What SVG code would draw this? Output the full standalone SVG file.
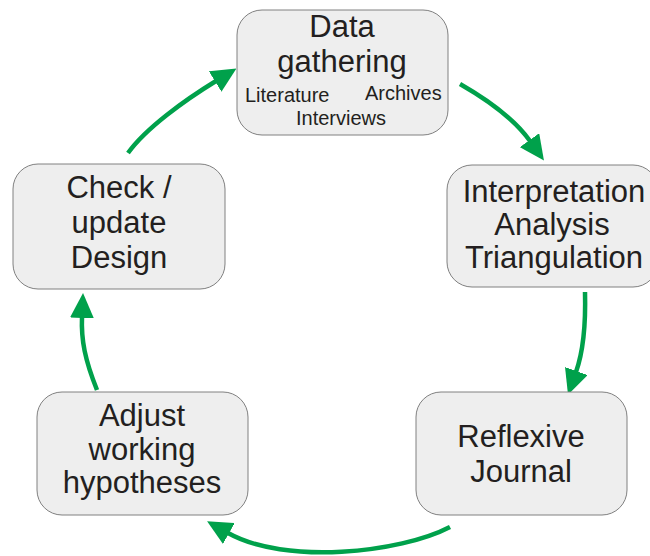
<svg xmlns="http://www.w3.org/2000/svg" width="650" height="556" viewBox="0 0 650 556">
<style>
.box{fill:#EEEEEE;stroke:#808080;stroke-width:1}
.t{font-family:"Liberation Sans",Arial,sans-serif;font-size:31px;fill:#231F20;text-anchor:middle}
.s{font-family:"Liberation Sans",Arial,sans-serif;font-size:20px;fill:#231F20}
.c{fill:none;stroke:#00A14B;stroke-width:4.5}
</style>
<defs>
<marker id="ah" viewBox="0 -12 25 24" refX="1" refY="0" markerWidth="25" markerHeight="24" markerUnits="userSpaceOnUse" orient="auto">
<path d="M0,-12 L25,0 L0,12 z" fill="#00A14B"/>
</marker>
</defs>
<rect width="650" height="556" fill="#FFFFFF"/>
<g id="connectors">
<path class="c" d="M460,84 C488,100 515,120 530,141" marker-end="url(#ah)"/>
<path class="c" d="M585,292 C586,330 582,355 576,372" marker-end="url(#ah)"/>
<path class="c" d="M450,527 C400,553 285,565 228,533" marker-end="url(#ah)"/>
<path class="c" d="M97,390 C85,360 81,340 82,317" marker-end="url(#ah)"/>
<path class="c" d="M128,153 C146,128 185,100 216,81" marker-end="url(#ah)"/>
</g>
<g id="data-gathering">
<rect class="box" x="237" y="10" width="211" height="125" rx="25" ry="25"/>
<text class="t" x="342" y="37">Data</text>
<text class="t" x="342" y="72">gathering</text>
<text class="s" x="245" y="102">Literature</text>
<text class="s" x="365" y="100">Archives</text>
<text class="s" x="341" y="125" text-anchor="middle">Interviews</text>
</g>
<g id="interpretation">
<rect class="box" x="447" y="165" width="211" height="122" rx="25" ry="25"/>
<text class="t" x="554" y="202">Interpretation</text>
<text class="t" x="552" y="235">Analysis</text>
<text class="t" x="554" y="268">Triangulation</text>
</g>
<g id="reflexive-journal">
<rect class="box" x="416" y="392" width="211" height="123" rx="25" ry="25"/>
<text class="t" x="521" y="447">Reflexive</text>
<text class="t" x="521" y="482">Journal</text>
</g>
<g id="adjust-hypotheses">
<rect class="box" x="37" y="392" width="211" height="123" rx="25" ry="25"/>
<text class="t" x="142" y="426">Adjust</text>
<text class="t" x="142" y="460">working</text>
<text class="t" x="142" y="493">hypotheses</text>
</g>
<g id="check-design">
<rect class="box" x="13" y="164" width="212" height="125" rx="25" ry="25"/>
<text class="t" x="119" y="198">Check /</text>
<text class="t" x="119" y="233">update</text>
<text class="t" x="119" y="268">Design</text>
</g>
</svg>
